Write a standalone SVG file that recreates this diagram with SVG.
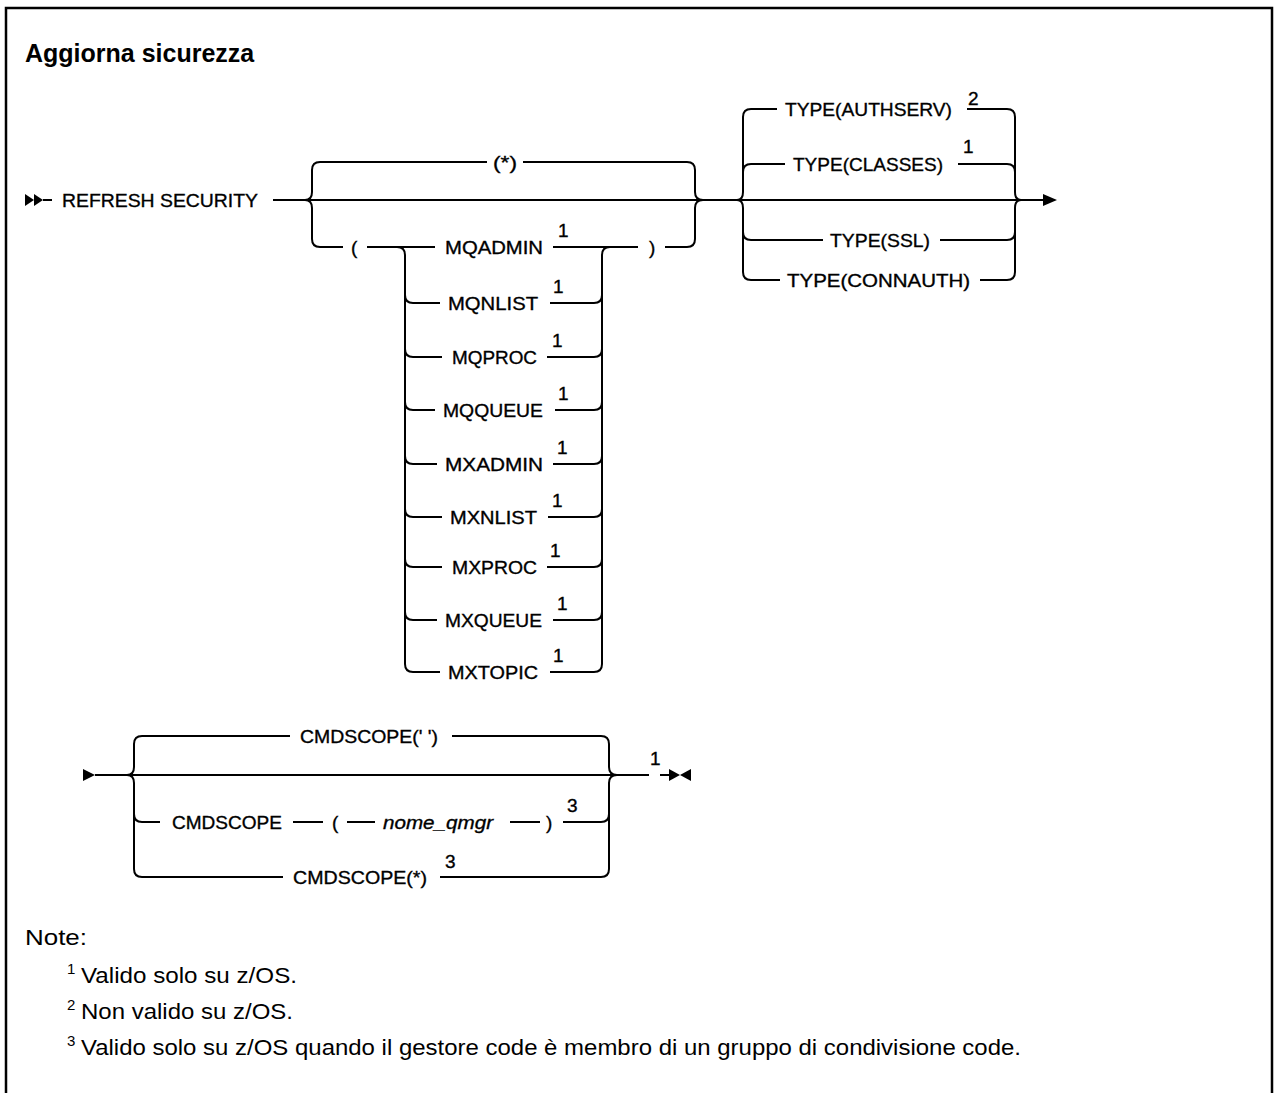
<svg xmlns="http://www.w3.org/2000/svg" width="1274" height="1093" viewBox="0 0 1274 1093">
<style>
.ln{stroke:#000;stroke-width:2;fill:none;stroke-linecap:butt}
.frame{stroke:#000;stroke-width:2.5;fill:none}
text{font-family:"Liberation Sans",Arial,sans-serif;fill:#000}
.lbl{font-size:19px;stroke:#000;stroke-width:0.35}
.sup{font-size:19px;stroke:#000;stroke-width:0.35}
.it{font-style:italic}
.title{font-size:25px;font-weight:bold}
.note{font-size:22px}
.nsup{font-size:15px}
</style>
<rect width="1274" height="1093" fill="#fff"/>
<path class="frame" d="M6,1093 L6,8 L1272,8 L1272,1093"/>
<text class="title" x="25" y="62">Aggiorna sicurezza</text>

<g id="connectors">
  <polygon points="25,194 34,200 25,206"/>
  <polygon points="34,194 43,200 34,206"/>
  <path class="ln" d="M43,200 L52,200"/>
  <path class="ln" d="M273,200 L1045,200"/>
  <polygon points="1043,194 1057,200 1043,206"/>
  <path class="ln" d="M320,162 Q312,162 312,170 L312,192 Q312,200 305,200 Q312,200 312,208 L312,239 Q312,247 320,247"/>
  <path class="ln" d="M320,162 L487,162 M523,162 L687,162 Q695,162 695,170 L695,192 Q695,200 703,200 Q695,200 695,208 L695,239 Q695,247 687,247 L665,247"/>
  <path class="ln" d="M320,247 L343,247 M367,247 L435,247 M553,247 L638,247"/>
  <path class="ln" d="M397,247 Q405,247 405,255 L405,664 Q405,672 413,672"/>
  <path class="ln" d="M610,247 Q602,247 602,255 L602,664 Q602,672 594,672"/>
  <path class="ln" d="M405,295 Q405,303 413,303 L440,303 M550,303 L594,303 Q602,303 602,295"/>
  <path class="ln" d="M405,349 Q405,357 413,357 L442,357 M547,357 L594,357 Q602,357 602,349"/>
  <path class="ln" d="M405,402 Q405,410 413,410 L435,410 M555,410 L594,410 Q602,410 602,402"/>
  <path class="ln" d="M405,456 Q405,464 413,464 L437,464 M553,464 L594,464 Q602,464 602,456"/>
  <path class="ln" d="M405,509 Q405,517 413,517 L442,517 M548,517 L594,517 Q602,517 602,509"/>
  <path class="ln" d="M405,559 Q405,567 413,567 L442,567 M547,567 L594,567 Q602,567 602,559"/>
  <path class="ln" d="M405,612 Q405,620 413,620 L437,620 M553,620 L594,620 Q602,620 602,612"/>
  <path class="ln" d="M413,672 L440,672 M550,672 L594,672"/>
  <path class="ln" d="M751,109 Q743,109 743,117 L743,192 Q743,200 737,200 Q743,200 743,208 L743,272 Q743,280 751,280"/>
  <path class="ln" d="M743,172 Q743,164 751,164 M743,232 Q743,240 751,240"/>
  <path class="ln" d="M1007,109 Q1015,109 1015,117 L1015,192 Q1015,200 1021,200 Q1015,200 1015,208 L1015,272 Q1015,280 1007,280"/>
  <path class="ln" d="M1007,164 Q1015,164 1015,172 M1007,240 Q1015,240 1015,232"/>
  <path class="ln" d="M751,109 L777,109 M967,109 L1007,109"/>
  <path class="ln" d="M751,164 L785,164 M958,164 L1007,164"/>
  <path class="ln" d="M751,240 L823,240 M940,240 L1007,240"/>
  <path class="ln" d="M751,280 L780,280 M980,280 L1007,280"/>
  <polygon points="83,769 95,775 83,781"/>
  <path class="ln" d="M95,775 L649,775 M660,775 L670,775"/>
  <polygon points="669,769 680,775 669,781"/>
  <polygon points="691,769 680,775 691,781"/>
  <path class="ln" d="M142,736 Q134,736 134,744 L134,767 Q134,775 127,775 Q134,775 134,783 L134,869 Q134,877 142,877"/>
  <path class="ln" d="M134,814 Q134,822 142,822"/>
  <path class="ln" d="M601,736 Q609,736 609,744 L609,767 Q609,775 617,775 Q609,775 609,783 L609,869 Q609,877 601,877"/>
  <path class="ln" d="M601,822 Q609,822 609,814"/>
  <path class="ln" d="M142,736 L290,736 M452,736 L601,736"/>
  <path class="ln" d="M142,822 L160,822 M293,822 L323,822 M347,822 L375,822 M510,822 L540,822 M563,822 L601,822"/>
  <path class="ln" d="M142,877 L283,877 M440,877 L601,877"/>
</g>

<g id="n-refresh"><text class="lbl" x="62" y="207" textLength="196" lengthAdjust="spacingAndGlyphs">REFRESH SECURITY</text></g>
<g id="n-star"><text class="lbl" x="493" y="169" textLength="24" lengthAdjust="spacingAndGlyphs">(*)</text></g>
<g id="n-lparen"><text class="lbl" x="351" y="254">(</text></g>
<g id="n-rparen"><text class="lbl" x="649" y="254">)</text></g>
<g id="n-mqadmin"><text class="lbl" x="445" y="254" textLength="98" lengthAdjust="spacingAndGlyphs">MQADMIN</text><text class="sup" x="558" y="237">1</text></g>
<g id="n-mqnlist"><text class="lbl" x="448" y="310" textLength="90" lengthAdjust="spacingAndGlyphs">MQNLIST</text><text class="sup" x="553" y="293">1</text></g>
<g id="n-mqproc"><text class="lbl" x="452" y="364" textLength="85" lengthAdjust="spacingAndGlyphs">MQPROC</text><text class="sup" x="552" y="347">1</text></g>
<g id="n-mqqueue"><text class="lbl" x="443" y="417" textLength="100" lengthAdjust="spacingAndGlyphs">MQQUEUE</text><text class="sup" x="558" y="400">1</text></g>
<g id="n-mxadmin"><text class="lbl" x="445" y="471" textLength="98" lengthAdjust="spacingAndGlyphs">MXADMIN</text><text class="sup" x="557" y="454">1</text></g>
<g id="n-mxnlist"><text class="lbl" x="450" y="524" textLength="87" lengthAdjust="spacingAndGlyphs">MXNLIST</text><text class="sup" x="552" y="507">1</text></g>
<g id="n-mxproc"><text class="lbl" x="452" y="574" textLength="85" lengthAdjust="spacingAndGlyphs">MXPROC</text><text class="sup" x="550" y="557">1</text></g>
<g id="n-mxqueue"><text class="lbl" x="445" y="627" textLength="97" lengthAdjust="spacingAndGlyphs">MXQUEUE</text><text class="sup" x="557" y="610">1</text></g>
<g id="n-mxtopic"><text class="lbl" x="448" y="679" textLength="90" lengthAdjust="spacingAndGlyphs">MXTOPIC</text><text class="sup" x="553" y="662">1</text></g>

<g id="n-authserv"><text class="lbl" x="785" y="116" textLength="167" lengthAdjust="spacingAndGlyphs">TYPE(AUTHSERV)</text><text class="sup" x="968" y="105">2</text></g>
<g id="n-classes"><text class="lbl" x="793" y="171" textLength="150" lengthAdjust="spacingAndGlyphs">TYPE(CLASSES)</text><text class="sup" x="963" y="153">1</text></g>
<g id="n-ssl"><text class="lbl" x="830" y="247" textLength="100" lengthAdjust="spacingAndGlyphs">TYPE(SSL)</text></g>
<g id="n-connauth"><text class="lbl" x="787" y="287" textLength="183" lengthAdjust="spacingAndGlyphs">TYPE(CONNAUTH)</text></g>

<g id="n-cmdscope-blank"><text class="lbl" x="300" y="743" textLength="138" lengthAdjust="spacingAndGlyphs">CMDSCOPE(' ')</text></g>
<g id="n-cmdscope-q"><text class="lbl" x="172" y="829" textLength="110" lengthAdjust="spacingAndGlyphs">CMDSCOPE</text><text class="lbl" x="332" y="829">(</text><text class="lbl it" x="383" y="829" textLength="110" lengthAdjust="spacingAndGlyphs">nome_qmgr</text><text class="lbl" x="546" y="829">)</text><text class="sup" x="567" y="812">3</text></g>
<g id="n-cmdscope-star"><text class="lbl" x="293" y="884" textLength="134" lengthAdjust="spacingAndGlyphs">CMDSCOPE(*)</text><text class="sup" x="445" y="868">3</text></g>
<g id="n-end"><text class="sup" x="650" y="765">1</text></g>

<g id="notes">
  <text class="note" x="25" y="945" textLength="62" lengthAdjust="spacingAndGlyphs">Note:</text>
  <text class="nsup" x="67" y="974">1</text><text class="note" x="81" y="983" textLength="216" lengthAdjust="spacingAndGlyphs">Valido solo su z/OS.</text>
  <text class="nsup" x="67" y="1010">2</text><text class="note" x="81" y="1019" textLength="212" lengthAdjust="spacingAndGlyphs">Non valido su z/OS.</text>
  <text class="nsup" x="67" y="1046">3</text><text class="note" x="81" y="1055" textLength="940" lengthAdjust="spacingAndGlyphs">Valido solo su z/OS quando il gestore code è membro di un gruppo di condivisione code.</text>
</g>
</svg>
